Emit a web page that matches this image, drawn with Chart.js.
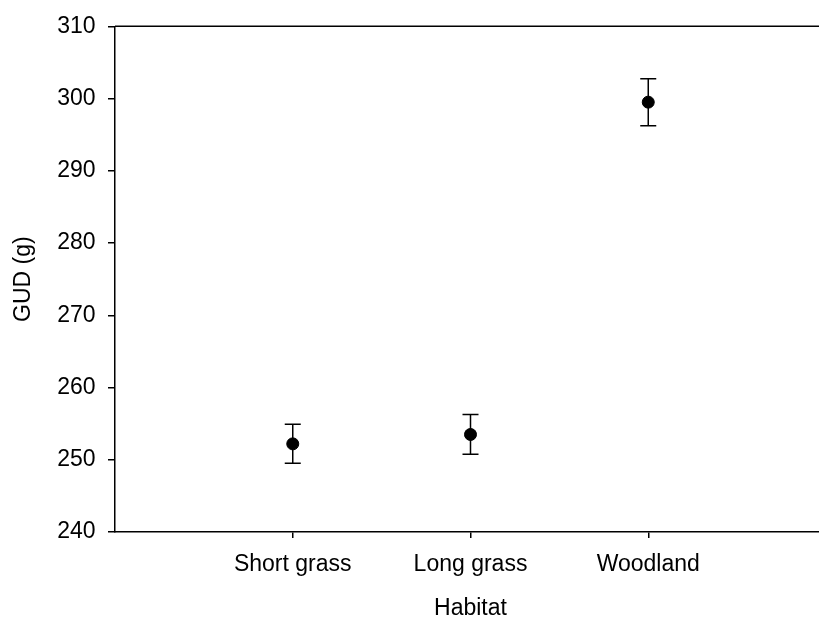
<!DOCTYPE html>
<html><head><meta charset="utf-8">
<script src="https://cdn.jsdelivr.net/npm/chart.js@4/dist/chart.umd.min.js"></script>
<style>html,body{margin:0;padding:0;overflow:hidden;background:#fff}#wrap{width:833px;height:620px}</style>
</head><body><div id="wrap"><canvas id="c" width="833" height="620"></canvas></div>
<script>
const categories = ["Short grass", "Long grass", "Woodland"];
const gudMean = [252.2, 253.5, 299.5];
const gudSE = [2.7, 2.75, 3.25];
const yTicks = [240, 250, 260, 270, 280, 290, 300, 310];

const FONT = "'Liberation Sans', Arial, Helvetica, sans-serif";
const INK = '#000';

const errorBars = {
  id: 'errorBars',
  beforeDatasetsDraw(chart) {
    const ctx = chart.ctx, xs = chart.scales.x, ys = chart.scales.y;
    ctx.save();
    ctx.strokeStyle = INK;
    ctx.lineWidth = 1.5;
    gudMean.forEach((m, i) => {
      const x = xs.getPixelForValue(i + 1);
      const yt = ys.getPixelForValue(m + gudSE[i]);
      const yb = ys.getPixelForValue(m - gudSE[i]);
      const cap = 8;
      ctx.beginPath();
      ctx.moveTo(x, yt); ctx.lineTo(x, yb);
      ctx.moveTo(x - cap, yt); ctx.lineTo(x + cap, yt);
      ctx.moveTo(x - cap, yb); ctx.lineTo(x + cap, yb);
      ctx.stroke();
    });
    ctx.restore();
  }
};

const topFrame = {
  id: 'topFrame',
  afterDraw(chart) {
    const ctx = chart.ctx, a = chart.chartArea;
    ctx.save();
    ctx.strokeStyle = INK;
    ctx.lineWidth = 1.5;
    ctx.beginPath();
    ctx.moveTo(a.left, a.top);
    ctx.lineTo(a.right, a.top);
    ctx.stroke();
    ctx.restore();
  }
};

new Chart(document.getElementById('c'), {
  type: 'scatter',
  data: {
    datasets: [{
      label: 'GUD',
      data: gudMean.map((m, i) => ({ x: i + 1, y: m })),
      pointRadius: 6,
      pointHoverRadius: 6,
      backgroundColor: INK,
      borderColor: INK,
      borderWidth: 1
    }]
  },
  options: {
    responsive: false,
    animation: false,
    events: [],
    layout: { padding: { top: 25, right: 1, bottom: 0, left: 0 } },
    plugins: { legend: { display: false }, tooltip: { enabled: false } },
    scales: {
      x: {
        type: 'linear',
        min: 0,
        max: 4,
        afterFit(s) { s.height = 88; },
        afterBuildTicks(s) { s.ticks = categories.map((c, i) => ({ value: i + 1 })); },
        grid: { drawOnChartArea: false, tickLength: 6, color: INK, lineWidth: 1.5 },
        border: { color: INK, width: 1.5 },
        ticks: {
          autoSkip: false, maxRotation: 0, padding: 13,
          color: INK, font: { family: FONT, size: 23 },
          callback: (v) => categories[v - 1] ?? ''
        },
        title: {
          display: true, text: 'Habitat', color: INK,
          font: { family: FONT, size: 23, lineHeight: 1 },
          padding: { top: 0, bottom: 0 }
        }
      },
      y: {
        min: 240,
        max: 310,
        afterFit(s) { s.width = 115; },
        afterBuildTicks(s) { s.ticks = yTicks.map(v => ({ value: v })); },
        grid: { drawOnChartArea: false, tickLength: 7, color: INK, lineWidth: 1.5 },
        border: { color: INK, width: 1.5 },
        ticks: {
          padding: 12.5, color: INK, font: { family: FONT, size: 23 }
        },
        title: {
          display: true, text: 'GUD (g)', color: INK,
          font: { family: FONT, size: 23, lineHeight: 1 },
          padding: { top: 12, bottom: 0 }
        }
      }
    }
  },
  plugins: [errorBars, topFrame]
});
</script>
</body></html>
